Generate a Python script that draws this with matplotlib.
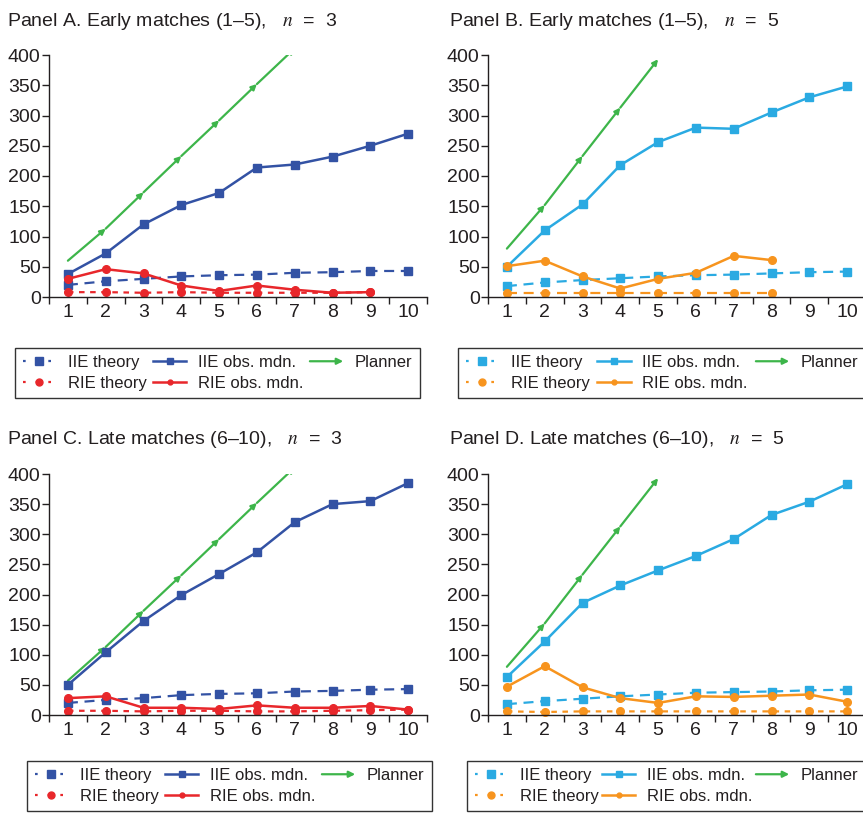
import matplotlib
matplotlib.use("Agg")
import matplotlib.pyplot as plt
from matplotlib.lines import Line2D
from matplotlib.patches import FancyArrowPatch
from matplotlib.legend_handler import HandlerBase

plt.rcParams['font.family'] = ['Liberation Sans', 'DejaVu Sans']
plt.rcParams['mathtext.fontset'] = 'stix'

# --- data ---
x10 = list(range(1, 11))

# Panel A: early matches, n = 3
a_iie_theory = [20, 26, 30, 34, 36, 37, 40, 41, 43, 43]
a_iie_obs = [38, 72, 120, 152, 172, 214, 219, 232, 250, 270]
a_rie_theory = [8, 8, 7, 8, 7, 7, 7, 7, 8]
a_rie_obs = [30, 46, 39, 19, 10, 19, 12, 7, 8]
a_planner = [60, 113, 173, 233, 292, 352, 411]

# Panel B: early matches, n = 5
b_iie_theory = [18, 24, 28, 31, 34, 36, 37, 39, 41, 42]
b_iie_obs = [50, 110, 153, 218, 256, 280, 278, 305, 330, 348]
b_rie_theory = [6, 6, 6, 6, 6, 6, 6, 6]
b_rie_obs = [51, 60, 34, 14, 30, 40, 68, 61]
b_planner = [80, 152, 233, 313, 393]

# Panel C: late matches, n = 3
c_iie_theory = [20, 25, 28, 33, 35, 36, 39, 40, 42, 43]
c_iie_obs = [50, 104, 156, 199, 234, 270, 320, 350, 355, 385]
c_rie_theory = [7, 7, 6, 7, 7, 6, 6, 7, 8, 9]
c_rie_obs = [28, 31, 12, 12, 10, 16, 12, 12, 15, 9]
c_planner = [57, 113, 173, 232, 292, 352, 411]

# Panel D: late matches, n = 5
d_iie_theory = [18, 23, 27, 31, 34, 37, 38, 39, 41, 42]
d_iie_obs = [63, 122, 186, 215, 240, 264, 292, 332, 354, 383]
d_rie_theory = [6, 5, 6, 6, 6, 6, 6, 6, 6, 6]
d_rie_obs = [47, 81, 46, 28, 20, 31, 30, 32, 34, 22]
d_planner = [80, 152, 233, 313, 393]

titles = [
    "Panel A. Early matches (1\u20135),   $n$  =  3",
    "Panel B. Early matches (1\u20135),   $n$  =  5",
    "Panel C. Late matches (6\u201310),   $n$  =  3",
    "Panel D. Late matches (6\u201310),   $n$  =  5",
]

DARK_BLUE = '#3352a4'
RED = '#e8272b'
LIGHT_BLUE = '#2aaae2'
ORANGE = '#f7941e'
GREEN = '#3db54a'
TXT = '#231f20'


class HandlerArrow(HandlerBase):
    def create_artists(self, legend, orig_handle, xdescent, ydescent,
                       width, height, fontsize, trans):
        y = height / 2 - ydescent
        p = FancyArrowPatch((-xdescent, y), (-xdescent + width, y),
                            arrowstyle='-|>', mutation_scale=9,
                            color=GREEN, lw=1.6, shrinkA=0, shrinkB=0,
                            transform=trans)
        return [p]


def draw_panel(ax, iie_theory, iie_obs, rie_theory, rie_obs, planner,
               iie_col, rie_col, rie_dash):
    ax.plot(x10[:len(iie_theory)], iie_theory, color=iie_col, lw=1.6,
            dashes=(4.5, 3), marker='s', ms=6, clip_on=False)
    ax.plot(x10[:len(rie_theory)], rie_theory, color=rie_col, lw=1.6,
            dashes=rie_dash, marker='o', ms=5.5, clip_on=False)
    ax.plot(x10[:len(iie_obs)], iie_obs, color=iie_col, lw=1.8,
            marker='s', ms=6, clip_on=False)
    ax.plot(x10[:len(rie_obs)], rie_obs, color=rie_col, lw=1.8,
            marker='o', ms=5.5, clip_on=False)
    # planner: straight segments with an arrowhead at every point
    for i in range(len(planner) - 1):
        arr = FancyArrowPatch((x10[i], planner[i]), (x10[i + 1], planner[i + 1]),
                              arrowstyle='-|>', mutation_scale=8,
                              color=GREEN, lw=1.6, shrinkA=0, shrinkB=0)
        ax.add_patch(arr)

    ax.set_xlim(0.5, 10.5)
    ax.set_ylim(0, 400)
    ax.set_yticks(range(0, 401, 50))
    ax.set_xticks(x10)
    ax.set_xticks([v + 0.5 for v in range(0, 11)], minor=True)
    ax.tick_params(axis='x', which='major', length=0, pad=5,
                   labelsize=14, colors=TXT)
    ax.tick_params(axis='x', which='minor', length=5, width=1, color=TXT)
    ax.tick_params(axis='y', length=5, width=1, labelsize=14,
                   colors=TXT, pad=1)
    for s in ['top', 'right']:
        ax.spines[s].set_visible(False)
    for s in ['left', 'bottom']:
        ax.spines[s].set_color(TXT)
        ax.spines[s].set_linewidth(1)

    handles = [
        Line2D([], [], color=iie_col, lw=1.6, dashes=(1.2, 4.5), marker='s', ms=5.5),
        Line2D([], [], color=rie_col, lw=1.6, dashes=(1.2, 4.5), marker='o', ms=5),
        Line2D([], [], color=iie_col, lw=1.8, marker='s', ms=5),
        Line2D([], [], color=rie_col, lw=1.8, marker='o', ms=3.5),
    ]
    planner_proxy = Line2D([], [], color=GREEN)
    handles.append(planner_proxy)
    labels = ['IIE theory', 'RIE theory', 'IIE obs. mdn.', 'RIE obs. mdn.', 'Planner']
    return handles, labels, planner_proxy


fig = plt.figure(figsize=(8.63, 8.14), dpi=100)
W, H = 863.0, 814.0

panels = [
    (a_iie_theory, a_iie_obs, a_rie_theory, a_rie_obs, a_planner, DARK_BLUE, RED, (2.5, 2.5)),
    (b_iie_theory, b_iie_obs, b_rie_theory, b_rie_obs, b_planner, LIGHT_BLUE, ORANGE, (4.5, 3)),
    (c_iie_theory, c_iie_obs, c_rie_theory, c_rie_obs, c_planner, DARK_BLUE, RED, (2.5, 2.5)),
    (d_iie_theory, d_iie_obs, d_rie_theory, d_rie_obs, d_planner, LIGHT_BLUE, ORANGE, (2.5, 2.5)),
]
# axes boxes in pixels: left, top(y=400), bottom(y=0)
ax_px = [(49, 55, 297), (488, 55, 297), (49, 474, 715), (488, 474, 715)]
title_px = [(7, 21), (449, 21), (7, 440), (449, 440)]
legend_px = [(15, 343, 420, 403), (458, 343, 866, 403),
             (27, 760, 432, 812), (467, 760, 866, 812)]

for k, p in enumerate(panels):
    left, top, bottom = ax_px[k]
    ax = fig.add_axes([left / W, 1 - bottom / H, 378 / W, (bottom - top) / H])
    handles, labels, proxy = draw_panel(ax, *p)
    tx, ty = title_px[k]
    fig.text(tx / W, 1 - ty / H, titles[k], fontsize=14, color=TXT,
             ha='left', va='center')
    lx0, ly0, lx1, ly1 = legend_px[k]
    leg = ax.legend(handles, labels, ncol=3, loc='center',
                    bbox_to_anchor=(lx0 / W, 1 - ly1 / H, (lx1 - lx0) / W, (ly1 - ly0) / H),
                    bbox_transform=fig.transFigure, mode='expand',
                    fontsize=12, frameon=True, fancybox=False, edgecolor='black',
                    handlelength=2.0, handletextpad=0.7, columnspacing=1.0,
                    labelspacing=0.35, borderpad=0.45, borderaxespad=0, numpoints=1,
                    handler_map={proxy: HandlerArrow()})
    leg.get_frame().set_linewidth(1)
    for t in leg.get_texts():
        t.set_color(TXT)

fig.savefig('out.png', dpi=100)
